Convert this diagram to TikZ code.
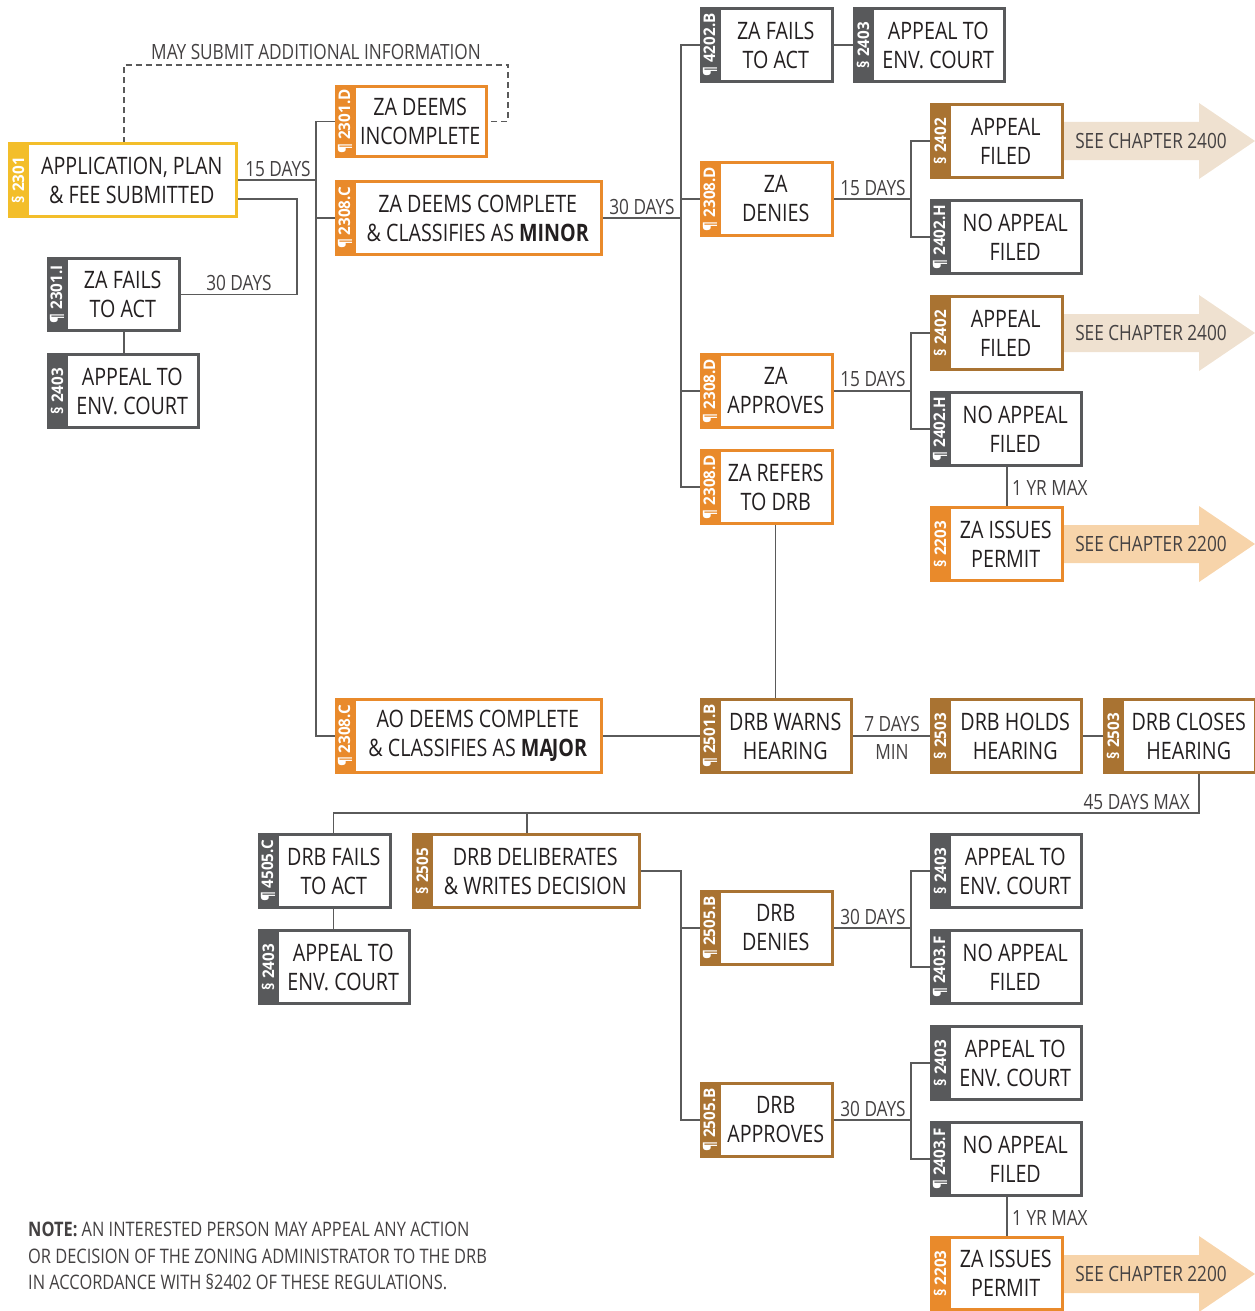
\documentclass[tikz,border=0pt]{standalone}
\usepackage{fontspec}
\setmainfont{Open Sans}[FakeStretch=0.82]
\newfontfamily\tabfont{Open Sans}[FakeStretch=0.95]
\pgfdeclarelayer{bg}
\pgfsetlayers{bg,main}
\definecolor{cyel}{HTML}{F3BE2A}
\definecolor{corg}{HTML}{E98A2B}
\definecolor{cbrn}{HTML}{A97332}
\definecolor{cgry}{HTML}{58595B}
\definecolor{ctxt}{HTML}{231F20}
\definecolor{cline}{HTML}{5A5A5A}
\definecolor{carrA}{HTML}{EFE1D0}
\definecolor{carrB}{HTML}{F7D4AA}
\tikzset{
 boxst/.style={draw, line width=3pt, fill=white, inner sep=0pt, outer sep=0pt, align=center, text=ctxt, font=\fontsize{24}{29}\selectfont},
 tabst/.style={inner sep=0pt, outer sep=0pt, text=white, font=\tabfont\bfseries\fontsize{16}{16}\selectfont},
 conn/.style={draw=cline, line width=1.4pt},
 dashconn/.style={draw=cline, line width=1.2pt, dash pattern=on 6pt off 4pt},
 lbl/.style={inner sep=0pt, text=ctxt!85, font=\fontsize{21}{24}\selectfont},
 notest/.style={inner sep=0pt, text=ctxt!85, font=\fontsize{20}{24}\selectfont},
 arrtxt/.style={inner sep=0pt, text=ctxt!85, font=\fontsize{21}{24}\selectfont},
}
\newcommand\bx[8]{%
 \node[boxst, draw=#2, minimum width={#5-#3-20.5}, minimum height={#6-#4-3}] (#1) at ({(#3+19+#5-1.5)/2},{(#4+#6)/2}) {#8};
 \node[tabst, fill=#2, minimum width={#6-#4}, minimum height=20, rotate=90] (#1-tab) at ({#3+10},{(#4+#6)/2}) {#7};
}
\newcommand\barrow[4]{%
 \fill[#2] (1060,{#3+19}) -- (1199,{#3+19}) -- (1199,#3) -- (1255,{#3+38}) -- (1199,{#3+76}) -- (1199,{#3+57}) -- (1060,{#3+57}) -- cycle;
 \node[arrtxt] (#1) at (1151,{#3+38}) {#4};
}
\begin{document}
\begin{tikzpicture}[x=1pt,y=-1pt]
\useasboundingbox (0,0) rectangle (1254,1311);
\begin{pgfonlayer}{bg}
\barrow{arrA}{carrA}{103}{SEE CHAPTER 2400}
\barrow{arrB}{carrA}{295}{SEE CHAPTER 2400}
\barrow{arrC}{carrB}{506}{SEE CHAPTER 2200}
\barrow{arrD}{carrB}{1236}{SEE CHAPTER 2200}
\end{pgfonlayer}
\bx{app}{cyel}{8}{142}{238}{218}{§ 2301}{APPLICATION, PLAN\\\& FEE SUBMITTED}
\bx{inc}{corg}{335}{85}{488}{158}{¶ 2301.D}{ZA DEEMS\\INCOMPLETE}
\bx{minor}{corg}{335}{180}{603}{256}{¶ 2308.C}{ZA DEEMS COMPLETE\\\& CLASSIFIES AS \textbf{MINOR}}
\bx{failA}{cgry}{47}{257}{181}{332}{¶ 2301.I}{ZA FAILS\\TO ACT}
\bx{courtA}{cgry}{47}{353}{200}{429}{§ 2403}{APPEAL TO\\ENV. COURT}
\bx{failB}{cgry}{700}{7}{834}{83}{¶ 4202.B}{ZA FAILS\\TO ACT}
\bx{courtB}{cgry}{853}{7}{1006}{83}{§ 2403}{APPEAL TO\\ENV. COURT}
\bx{denA}{corg}{700}{161}{834}{237}{¶ 2308.D}{ZA\\DENIES}
\bx{apfA}{cbrn}{930}{103}{1064}{179}{§ 2402}{APPEAL\\FILED}
\bx{noapA}{cgry}{930}{199}{1083}{275}{¶ 2402.H}{NO APPEAL\\FILED}
\bx{appA}{corg}{700}{353}{834}{429}{¶ 2308.D}{ZA\\APPROVES}
\bx{apfB}{cbrn}{930}{295}{1064}{371}{§ 2402}{APPEAL\\FILED}
\bx{noapB}{cgry}{930}{391}{1083}{467}{¶ 2402.H}{NO APPEAL\\FILED}
\bx{refer}{corg}{700}{449}{834}{525}{¶ 2308.D}{ZA REFERS\\TO DRB}
\bx{permA}{corg}{930}{506}{1064}{582}{§ 2203}{ZA ISSUES\\PERMIT}
\bx{major}{corg}{335}{698}{603}{774}{¶ 2308.C}{AO DEEMS COMPLETE\\\& CLASSIFIES AS \textbf{MA\kern-1.2ptJOR}}
\bx{warn}{cbrn}{700}{698}{853}{774}{¶ 2501.B}{DRB WARNS\\HEARING}
\bx{hold}{cbrn}{930}{698}{1083}{774}{§ 2503}{DRB HOLDS\\HEARING}
\bx{closeH}{cbrn}{1103}{698}{1257}{774}{§ 2503}{DRB CLOSES\\HEARING}
\bx{failC}{cgry}{258}{833}{392}{909}{¶ 4505.C}{DRB FAILS\\TO ACT}
\bx{delib}{cbrn}{412}{833}{641}{909}{§ 2505}{DRB DELIBERATES\\\& WRITES DECISION}
\bx{courtC}{cgry}{258}{929}{411}{1005}{§ 2403}{APPEAL TO\\ENV. COURT}
\bx{denB}{cbrn}{700}{890}{834}{966}{¶ 2505.B}{DRB\\DENIES}
\bx{courtD}{cgry}{930}{833}{1083}{909}{§ 2403}{APPEAL TO\\ENV. COURT}
\bx{noapC}{cgry}{930}{929}{1083}{1005}{¶ 2403.F}{NO APPEAL\\FILED}
\bx{appB}{cbrn}{700}{1082}{834}{1158}{¶ 2505.B}{DRB\\APPROVES}
\bx{courtE}{cgry}{930}{1025}{1083}{1101}{§ 2403}{APPEAL TO\\ENV. COURT}
\bx{noapD}{cgry}{930}{1121}{1083}{1197}{¶ 2403.F}{NO APPEAL\\FILED}
\bx{permB}{corg}{930}{1236}{1064}{1311}{§ 2203}{ZA ISSUES\\PERMIT}
\coordinate (b0) at (297,0);
\coordinate (b1) at (316,0);
\coordinate (b2) at (681,0);
\coordinate (b3) at (911,0);
\coordinate (b4) at (1007,0);
\coordinate (dA) at (124,65);
\coordinate (dB) at (508,65);
\coordinate (bus) at (1199,813);
\coordinate (busM) at (527,813);
\coordinate (a30) at ([yshift=-19pt]app.east);
\begin{pgfonlayer}{bg}
\draw[conn] (app.east) -- (b1 |- app.east);
\draw[conn] (inc.west) -- (b1 |- inc.west) -- (b1 |- major.west) -- (major.west);
\draw[conn] (minor.west) -- (b1 |- minor.west);
\draw[conn] (a30) -- (b0 |- a30) -- (b0 |- failA.east) -- (failA.east);
\draw[conn] (failA.south -| dA) -- (courtA.north -| dA);
\draw[dashconn] (dA |- app.north) -- (dA) -- (dB) -- (dB |- inc.east) -- (inc.east);
\draw[conn] (minor.east) -- (b2 |- minor.east);
\draw[conn] (failB.west) -- (b2 |- failB.west) -- (b2 |- refer.west) -- (refer.west);
\draw[conn] (denA.west) -- (b2 |- denA.west);
\draw[conn] (appA.west) -- (b2 |- appA.west);
\draw[conn] (failB.east) -- (courtB.west);
\draw[conn] (denA.east) -- (b3 |- denA.east);
\draw[conn] (apfA.west) -- (b3 |- apfA.west) -- (b3 |- noapA.west) -- (noapA.west);
\draw[conn] (appA.east) -- (b3 |- appA.east);
\draw[conn] (apfB.west) -- (b3 |- apfB.west) -- (b3 |- noapB.west) -- (noapB.west);
\draw[conn] (b4 |- noapB.south) -- (b4 |- permA.north);
\draw[conn] (refer.south) -- (refer.south |- warn.north);
\draw[conn] (major.east) -- (warn.west);
\draw[conn] (warn.east) -- (hold.west);
\draw[conn] (hold.east) -- (closeH.west);
\draw[conn] (bus |- closeH.south) -- (bus) -- (failC.north |- bus) -- (failC.north);
\draw[conn] (busM) -- (busM |- delib.north);
\draw[conn] (failC.south) -- (failC.south |- courtC.north);
\draw[conn] (delib.east) -- (b2 |- delib.east) -- (b2 |- appB.west) -- (appB.west);
\draw[conn] (denB.west) -- (b2 |- denB.west);
\draw[conn] (denB.east) -- (b3 |- denB.east);
\draw[conn] (courtD.west) -- (b3 |- courtD.west) -- (b3 |- noapC.west) -- (noapC.west);
\draw[conn] (appB.east) -- (b3 |- appB.east);
\draw[conn] (courtE.west) -- (b3 |- courtE.west) -- (b3 |- noapD.west) -- (noapD.west);
\draw[conn] (b4 |- noapD.south) -- (b4 |- permB.north);
\end{pgfonlayer}
\node[lbl, anchor=base] (l1) at (316,60) {MAY SUBMIT ADDITIONAL INFORMATION};
\node[lbl, anchor=base] (l2) at (278,176) {15 DAYS};
\node[lbl, anchor=base] (l3) at (239,290) {30 DAYS};
\node[lbl, anchor=base] (l4) at (642,214) {30 DAYS};
\node[lbl, anchor=base] (l5) at (873,195) {15 DAYS};
\node[lbl, anchor=base] (l6) at (873,386) {15 DAYS};
\node[lbl, anchor=base west] (l7) at (1012,495) {1 YR MAX};
\node[lbl, anchor=base] (l8) at (892,731) {7 DAYS};
\node[lbl, anchor=base] (l9) at (892,759) {MIN};
\node[lbl, anchor=base east] (l10) at (1190,809) {45 DAYS MAX};
\node[lbl, anchor=base] (l11) at (873,924) {30 DAYS};
\node[lbl, anchor=base] (l12) at (873,1116) {30 DAYS};
\node[lbl, anchor=base west] (l13) at (1012,1225) {1 YR MAX};
\node[notest, anchor=base west] (n1) at (28,1236) {\textbf{NOTE:} AN INTERESTED PERSON MAY APPEAL ANY ACTION};
\node[notest, anchor=base west] (n2) at (28,1263) {OR DECISION OF THE ZONING ADMINISTRATOR TO THE DRB};
\node[notest, anchor=base west] (n3) at (28,1289) {IN ACCORDANCE WITH §2402 OF THESE REGULATIONS.};
\end{tikzpicture}
\end{document}
